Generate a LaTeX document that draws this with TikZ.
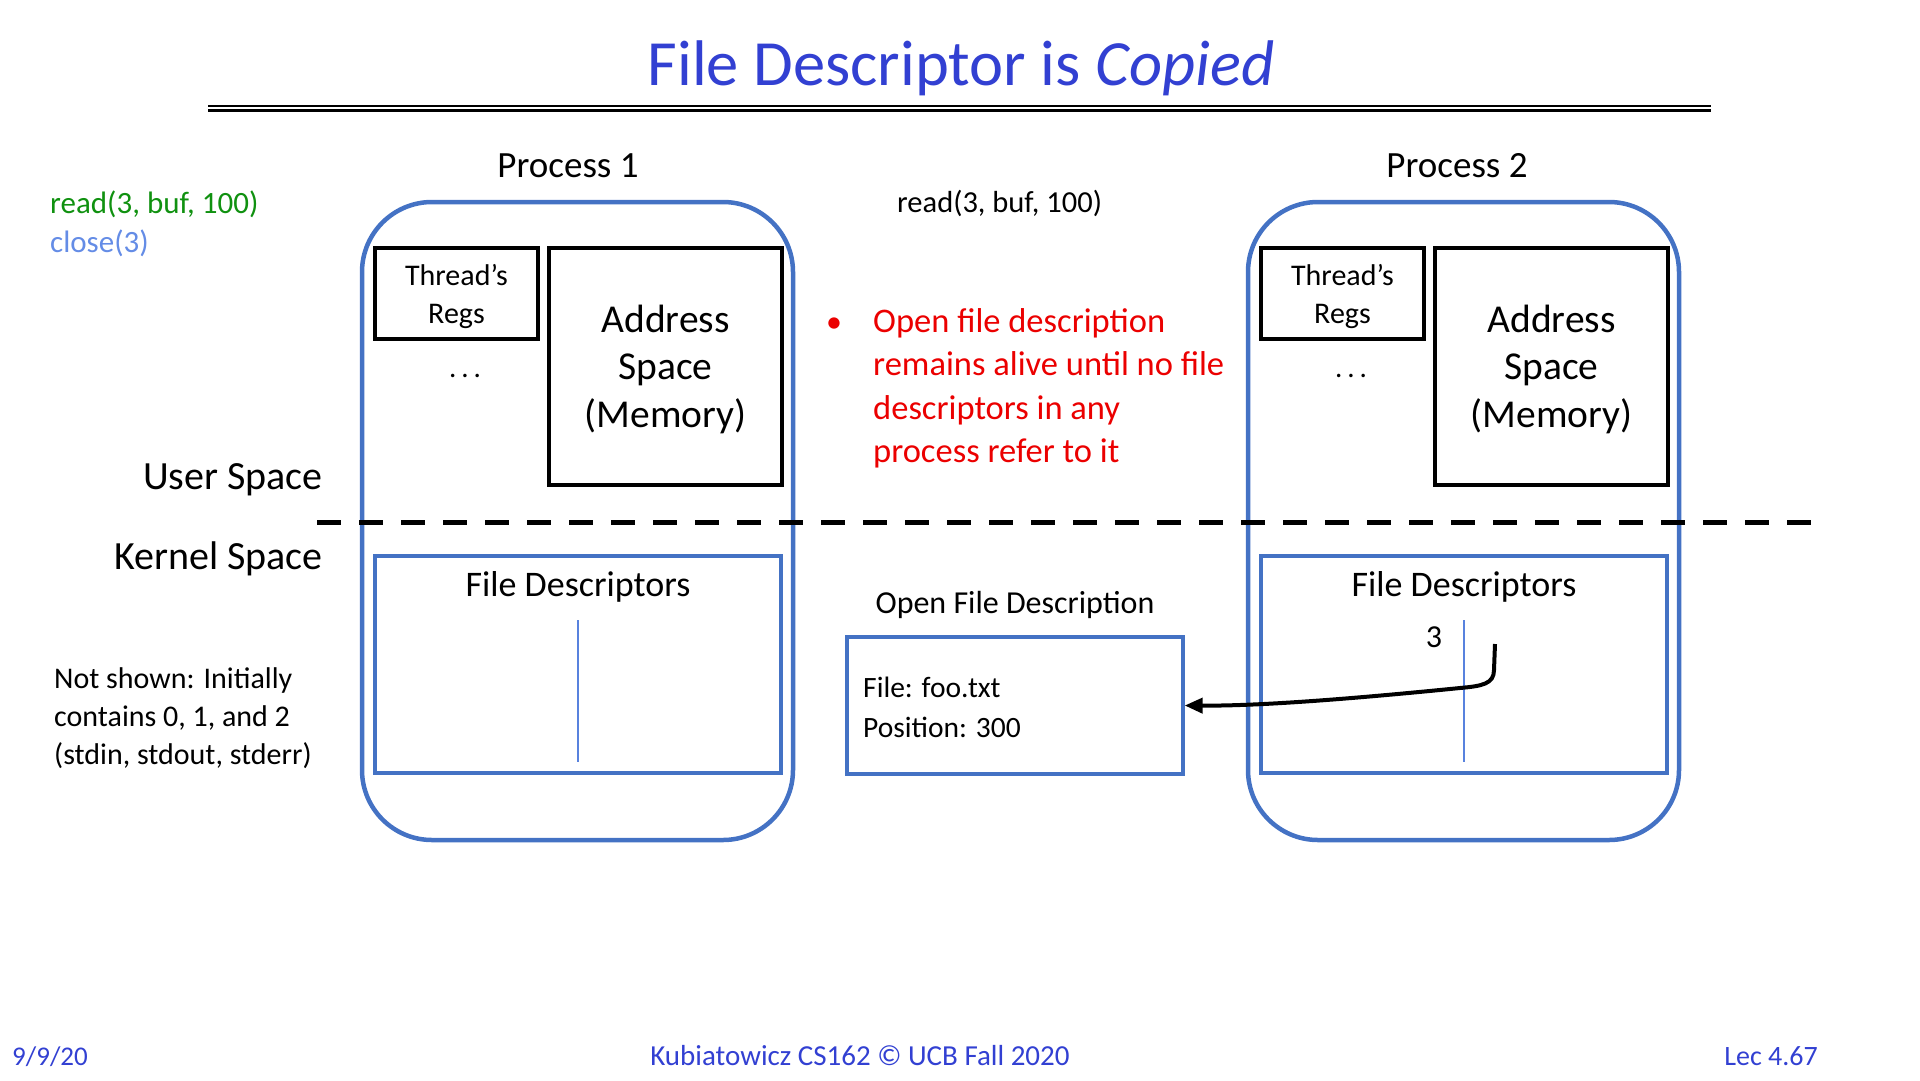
\documentclass[tikz,border=0pt]{standalone}
\usepackage{fontspec}
\setmainfont{Carlito}
\usetikzlibrary{arrows.meta}
\definecolor{titleblue}{RGB}{50,64,210}
\definecolor{pblue}{RGB}{68,114,196}
\definecolor{lblue}{RGB}{88,130,222}
\definecolor{codegreen}{RGB}{16,145,16}
\definecolor{closeblue}{RGB}{100,140,230}
\definecolor{notered}{RGB}{235,0,0}
\newcommand{\fsz}[2]{\fontsize{#1pt}{#2pt}\selectfont}
\newcommand{\mlines}[2]{\begin{tabular}[t]{@{}#1@{}}#2\end{tabular}}
\begin{document}
\begin{tikzpicture}[x=1pt,y=-1pt,
  txt/.style={inner sep=0pt},
  procbox/.style={draw=pblue, line width=4.5pt, rounded corners=70pt, minimum width=431pt, minimum height=638pt, inner sep=0pt},
  blackbox/.style={draw=black, line width=3.3pt, inner sep=0pt},
  bluebox/.style={draw=pblue, line width=3.3pt, inner sep=0pt},
  fdline/.style={draw=lblue, line width=2pt},
  ptr/.style={line width=4pt, -{Triangle[length=18pt,width=15pt]}},
  divider/.style={line width=5pt, dash pattern=on 23.5pt off 18.5pt}
]
\useasboundingbox (0,0) rectangle (1920,1080);

% title
\node[txt, anchor=base, text=titleblue] (title) at (961,85) {\fsz{64.5}{75}File Descriptor is \textit{Copied}};
\draw[line width=2.2pt] (208,106) -- (1711,106);
\draw[line width=2.2pt] (208,110.5) -- (1711,110.5);

% left annotations
\node[txt, anchor=base west, text=codegreen] (readA) at (50,213) {\fsz{31}{38}read(3, buf, 100)};
\node[txt, anchor=base west, text=closeblue] (closeA) at (50,252) {\fsz{31}{38}close(3)};
\node[txt, anchor=base east] (user) at (323,489) {\fsz{40}{47}User Space};
\node[txt, anchor=base east] (kernel) at (323,569) {\fsz{40}{47}Kernel Space};
\node[txt, anchor=base west] (notshown) at (54,688) {\fsz{30}{38}\mlines{l}{Not shown: Initially\\contains 0, 1, and 2\\(stdin, stdout, stderr)}};

% process 1
\node[txt, anchor=base] (p1title) at (568,177) {\fsz{37}{40}Process 1};
\node[procbox] (p1) at (577.5,521) {};
\node[blackbox, minimum width=163pt, minimum height=91pt] (p1regs) at (456.5,293.5) {};
\node[txt, anchor=base] (p1regst) at (456.5,285) {\fsz{30}{38}\mlines{c}{Thread’s\\Regs}};
\node[txt, anchor=base] (p1dots) at (465,377) {\fsz{29}{38}.\hspace{5pt}.\hspace{5pt}.};
\node[blackbox, minimum width=233pt, minimum height=237pt] (p1mem) at (665.5,366.5) {};
\node[txt, anchor=base] (p1memt) at (665.5,332) {\fsz{39.5}{47.5}\mlines{c}{Address\\Space\\(Memory)}};
\node[bluebox, minimum width=406pt, minimum height=217pt] (p1fd) at (578,664.5) {};
\node[txt, anchor=base] (p1fdt) at (578,596) {\fsz{36}{40}File Descriptors};
\coordinate (p1lt) at (578,620);
\coordinate (p1lb) at (578,762);
\draw[fdline] (p1lt) -- (p1lb);

% process 2
\node[txt, anchor=base] (p2title) at (1457,177) {\fsz{37}{40}Process 2};
\node[procbox] (p2) at (1463.5,521) {};
\node[blackbox, minimum width=163pt, minimum height=91pt] (p2regs) at (1342.5,293.5) {};
\node[txt, anchor=base] (p2regst) at (1342.5,285) {\fsz{30}{38}\mlines{c}{Thread’s\\Regs}};
\node[txt, anchor=base] (p2dots) at (1351,377) {\fsz{29}{38}.\hspace{5pt}.\hspace{5pt}.};
\node[blackbox, minimum width=233pt, minimum height=237pt] (p2mem) at (1551.5,366.5) {};
\node[txt, anchor=base] (p2memt) at (1551.5,332) {\fsz{39.5}{47.5}\mlines{c}{Address\\Space\\(Memory)}};
\node[bluebox, minimum width=406pt, minimum height=217pt] (p2fd) at (1464,664.5) {};
\node[txt, anchor=base] (p2fdt) at (1464,596) {\fsz{36}{40}File Descriptors};
\coordinate (p2lt) at (1464,620);
\coordinate (p2lb) at (1464,762);
\draw[fdline] (p2lt) -- (p2lb);
\node[txt, anchor=base] (three) at (1434,647) {\fsz{32}{38}3};

% middle
\node[txt, anchor=base west] (readB) at (897,212) {\fsz{30.5}{38}read(3, buf, 100)};
\node[txt, anchor=base, text=notered] (bullet) at (834,332) {\fsz{32}{43.5}•};
\node[txt, anchor=base west, text=notered] (note) at (873,332) {\fsz{34.5}{43.5}\mlines{l}{Open file description\\remains alive until no file\\descriptors in any\\process refer to it}};
\node[txt, anchor=base] (ofdt) at (1015,613) {\fsz{32}{36}Open File Description};
\node[bluebox, minimum width=336pt, minimum height=137pt] (ofd) at (1015,705.5) {};
\node[txt, anchor=base west] (ofdtext) at (863,697) {\fsz{29.5}{40}\mlines{l}{File: foo.txt\\Position: 300}};

% user/kernel divider
\draw[divider] (317,522) -- (1811,522);

% pointer from fd 3 to open file description
\coordinate (fd3) at (1495,644);
\draw[ptr] (fd3) -- (1494,670) .. controls (1494,684) and (1482,686) .. (1460,688)
  .. controls (1350,699) and (1260,706) .. (ofd.east);

% footer
\node[txt, anchor=base west, text=titleblue] (date) at (12,1065) {\fsz{27}{30}9/9/20};
\node[txt, anchor=base, text=titleblue] (credit) at (860,1065) {\fsz{29}{30}Kubiatowicz CS162 © UCB Fall 2020};
\node[txt, anchor=base east, text=titleblue] (lec) at (1818,1065) {\fsz{28}{30}Lec 4.67};
\end{tikzpicture}
\end{document}
